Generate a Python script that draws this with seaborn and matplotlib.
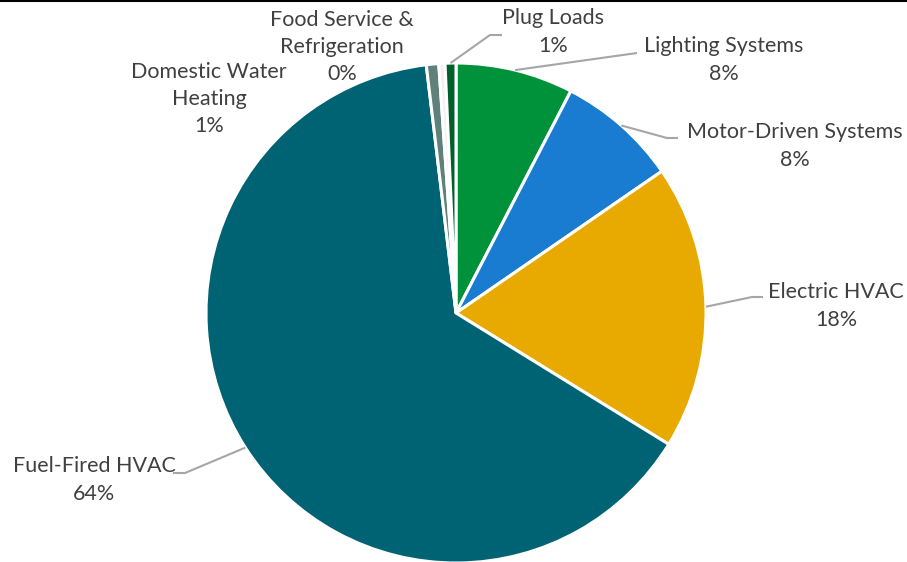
import numpy as np
import matplotlib.pyplot as plt
import seaborn as sns
from matplotlib.lines import Line2D

#################################################
#   DATA    -------------------------------------
#################################################
categories = ['Lighting Systems', 'Motor-Driven Systems', 'Electric HVAC',
              'Fuel-Fired HVAC', 'Domestic Water\nHeating',
              'Food Service &\nRefrigeration', 'Plug Loads']
shares = [7.6, 7.8, 18.4, 64.3, 0.8, 0.4, 0.7]
colors = ['#00923a', '#1a7cd1', '#e8aa00', '#006373', '#5f807b', '#eef2f0', '#005f2a']

#################################################
#   FIGURE    -----------------------------------
#################################################
sns.set_theme(style='white')
plt.rcParams['font.family'] = ['Lato', 'DejaVu Sans']

W, H = 907, 562
fig = plt.figure(figsize=(W / 100, H / 100), dpi=100)
ax = fig.add_axes([0, 0, 1, 1])

cx, cy, r = 456, H - 313, 250

wedges, _ = ax.pie(
    shares,
    colors=colors,
    startangle=90,
    counterclock=False,
    center=(cx, cy),
    radius=r,
    wedgeprops={'edgecolor': 'white', 'linewidth': 2.2},
)
ax.set_xlim(0, W)
ax.set_ylim(0, H)
ax.set_aspect('equal')
ax.axis('off')

# label layout: text centre (px, top-origin), leader elbow, leader end (or None)
layout = [
    ((724, 60), (637, 53), None),
    ((795, 146), (667, 138), (678, 138)),
    ((836, 306), (752, 297), (763, 297)),
    ((94, 480), (185, 473), (173, 473)),
    ((209, 99), None, None),
    ((342, 47), None, None),
    ((553, 32), (490, 35), (502, 35)),
]

text_col = '#404040'
line_col = '#a6a6a6'
cum = np.cumsum([0] + shares[:-1])
for i, (name, val) in enumerate(zip(categories, shares)):
    (tx, ty), elbow, end = layout[i]
    label = f"{name}\n{round(val)}%"
    ax.text(tx, H - ty, label, ha='center', va='center', fontsize=15.5,
            color=text_col, linespacing=1.45)
    if elbow is not None:
        mid = (cum[i] + val / 2) / 100 * 2 * np.pi
        ax_x = cx + r * np.sin(mid)
        ax_y = cy + r * np.cos(mid)
        xs = [ax_x, elbow[0]]
        ys = [ax_y, H - elbow[1]]
        if end is not None:
            xs.append(end[0])
            ys.append(H - end[1])
        ax.plot(xs, ys, color=line_col, lw=1.5, solid_capstyle='butt')

fig.add_artist(Line2D([0, 1], [0.998, 0.998], color='black', lw=1.5,
                      transform=fig.transFigure))

fig.savefig('out.png', dpi=100)
